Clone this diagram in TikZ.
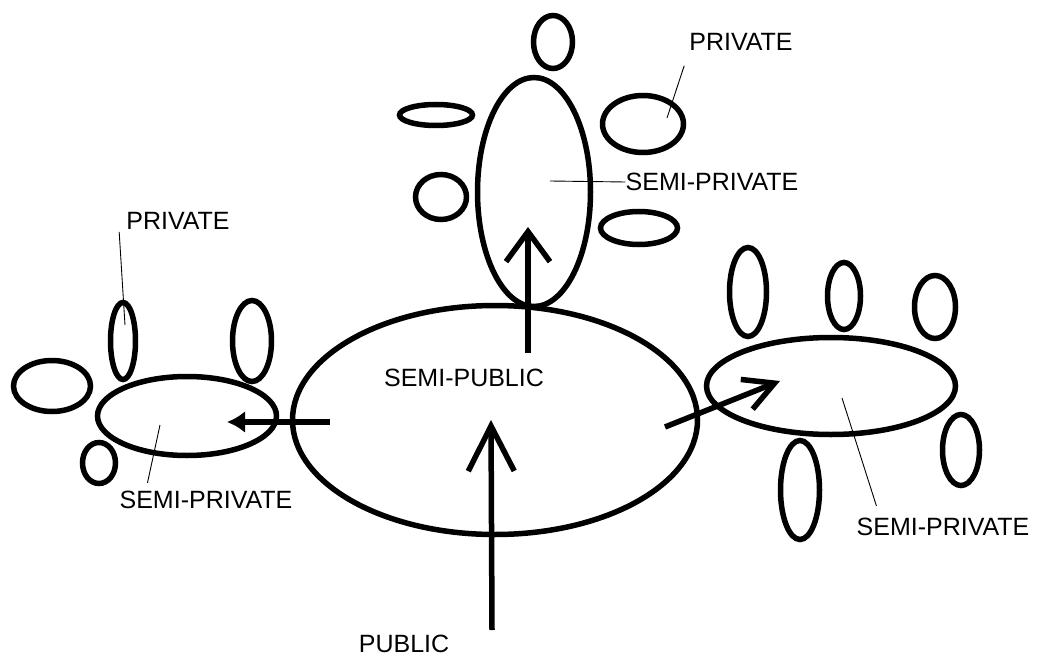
\documentclass[tikz,border=0pt]{standalone}
\usepackage{fontspec}
\setmainfont{Liberation Sans}
\usetikzlibrary{shapes.geometric,arrows.meta}

\begin{document}
\begin{tikzpicture}[x=1pt,y=-1pt,
  room/.style 2 args={draw,ellipse,line width=5.5pt,inner sep=0pt,minimum width=#1pt,minimum height=#2pt},
  lbl/.style={font=\fontsize{25}{28}\selectfont,inner sep=0pt},
  lead/.style={line width=0.9pt},
  flow/.style 2 args={line width=5.5pt,-{Straight Barb[length=#1pt,width=#2pt]}}]
  \useasboundingbox (0,0) rectangle (1044,658);
  \node[room={405}{229}] (semipub) at (495,420) {};
  \node[room={113}{229}] (semitop) at (534,192) {};
  \node[room={39}{53}] (privtopa) at (553,42) {};
  \node[room={73}{21}] (privtopb) at (436,115) {};
  \node[room={81}{57}] (privtopc) at (643,124) {};
  \node[room={51}{45}] (privtopd) at (441,197) {};
  \node[room={77}{33}] (privtope) at (639,228) {};
  \node[room={179}{79}] (semileft) at (187,416) {};
  \node[room={25}{77}] (privlefta) at (123,341) {};
  \node[room={39}{81}] (privleftb) at (252,341) {};
  \node[room={77}{51}] (privleftc) at (52,386) {};
  \node[room={33}{41}] (privleftd) at (99,463) {};
  \node[room={249}{97}] (semiright) at (831,386) {};
  \node[room={37}{89}] (privrighta) at (748,292) {};
  \node[room={33}{67}] (privrightb) at (844,296) {};
  \node[room={41}{63}] (privrightc) at (935,307) {};
  \node[room={37}{71}] (privrightd) at (961,450) {};
  \node[room={39}{99}] (privrighte) at (800,490) {};
  \node[lbl] (semipubtxt) at (464,378) {SEMI-PUBLIC};
  \node[lbl] (pubtxt) at (404,644) {PUBLIC};
  \node[lbl] (privtoptxt) at (741,42) {PRIVATE};
  \node[lbl] (semitoptxt) at (712,182) {SEMI-PRIVATE};
  \node[lbl] (privlefttxt) at (178,221) {PRIVATE};
  \node[lbl] (semilefttxt) at (206,500) {SEMI-PRIVATE};
  \node[lbl] (semirighttxt) at (943,527) {SEMI-PRIVATE};
  \coordinate (pubfoot) at (492,630);
  \coordinate (pubtip) at (491,420);
  \coordinate (topfoot) at (528,353);
  \coordinate (toptip) at (528,227);
  \coordinate (leftfoot) at (330,422);
  \coordinate (lefttip) at (227,422);
  \coordinate (rightfoot) at (665,427);
  \coordinate (righttip) at (780,381);
  \draw[flow={45}{46}] (pubfoot) -- (pubtip);
  \draw[flow={30}{44}] (topfoot) -- (toptip);
  \draw[flow={30}{32}] (rightfoot) -- (righttip);
  \draw[line width=5.5pt,-{Latex[length=18pt,width=22pt]}] (leftfoot) -- (lefttip);
  \coordinate (privtopend) at (667,118);
  \coordinate (semitopend) at (550,181);
  \coordinate (privleftend) at (125,325);
  \coordinate (semileftend) at (160,425);
  \coordinate (semirightend) at (842,398);
  \draw[lead] ([shift={(-5,15)}]privtoptxt.south west) -- (privtopend);
  \draw[lead] (semitoptxt.west) -- (semitopend);
  \draw[lead] ([shift={(-7,2)}]privlefttxt.south west) -- (privleftend);
  \draw[lead] ([shift={(28,-8)}]semilefttxt.north west) -- (semileftend);
  \draw[lead] ([shift={(20,-12)}]semirighttxt.north west) -- (semirightend);
\end{tikzpicture}
\end{document}
